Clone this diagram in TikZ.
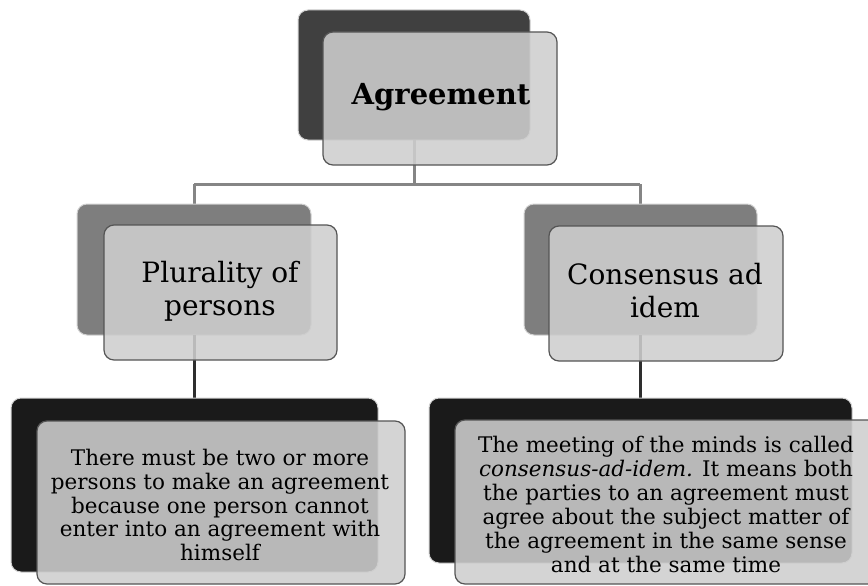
\documentclass[tikz,border=0pt]{standalone}
\usepackage{fontspec}
\setmainfont{DejaVu Serif}
\usetikzlibrary{positioning}
\definecolor{backA}{HTML}{404040}
\definecolor{backB}{HTML}{7E7E7E}
\definecolor{backC}{HTML}{1A1A1A}
\definecolor{frontfill}{HTML}{CECECE}
\definecolor{frontline}{HTML}{555555}
\definecolor{linkA}{HTML}{858585}
\definecolor{linkB}{HTML}{2E2E2E}
\tikzset{
  backbox/.style={draw=gray!35, line width=1pt, rounded corners=10pt},
  frontbox/.style={draw=frontline, line width=1.2pt, rounded corners=10pt, fill=frontfill, fill opacity=0.88, draw opacity=1},
  txt/.style={align=center, text=black, inner sep=0pt},
  linkup/.style={draw=linkA, line width=3pt},
  linkdown/.style={draw=linkB, line width=3pt},
}
\begin{document}
\begin{tikzpicture}[x=1pt,y=-1pt]
\useasboundingbox (0,0) rectangle (868,586);
% connectors (behind boxes)
\coordinate (hl) at (194,184);
\coordinate (hr) at (640,184);
\coordinate (hm) at (414,184);
% Agreement
\filldraw[backbox, fill=backA] (298,10) rectangle (530,140);
\coordinate (agtop) at (414,140);
\draw[linkup] (agtop) -- (hm);
\draw[linkup] (hl) -- (hr);
\draw[linkup] (hl) -- (194,204);
\draw[linkup] (hr) -- (640,204);
\filldraw[frontbox] (323,32) rectangle (557,165);
\node[txt, font=\fontsize{29}{34}\selectfont\bfseries] (agr) at (441,97) {Agreement};
% Plurality
\filldraw[backbox, fill=backB] (77,204) rectangle (311,335);
\coordinate (plb) at (194,335);
\coordinate (plc) at (194,398);
\draw[linkdown] (plb) -- (plc);
\filldraw[frontbox] (104,225) rectangle (337,360);
\node[txt, font=\fontsize{28}{33}\selectfont] (plu) at (220,291) {Plurality of\\persons};
% Consensus
\filldraw[backbox, fill=backB] (524,204) rectangle (757,335);
\coordinate (cnb) at (640,335);
\coordinate (cnc) at (640,398);
\draw[linkdown] (cnb) -- (cnc);
\filldraw[frontbox] (549,226) rectangle (783,361);
\node[txt, font=\fontsize{28}{33}\selectfont] (con) at (665,291) {Consensus ad\\idem};
% bottom left
\filldraw[backbox, fill=backC] (11,398) rectangle (378,572);
\filldraw[frontbox] (37,421) rectangle (405,584);
\node[txt, font=\fontsize{21.5}{23.8}\selectfont] (btl) at (220,505) {There must be two or more\\persons to make an agreement\\because one person cannot\\enter into an agreement with\\himself};
% bottom right
\filldraw[backbox, fill=backC] (429,398) rectangle (852,563);
\filldraw[frontbox] (455,420) rectangle (880,584);
\node[txt, font=\fontsize{21.5}{24}\selectfont] (btr) at (666,504) {The meeting of the minds is called\\\textit{consensus-ad-idem.} It means both\\the parties to an agreement must\\agree about the subject matter of\\the agreement in the same sense\\and at the same time};
\end{tikzpicture}
\end{document}
